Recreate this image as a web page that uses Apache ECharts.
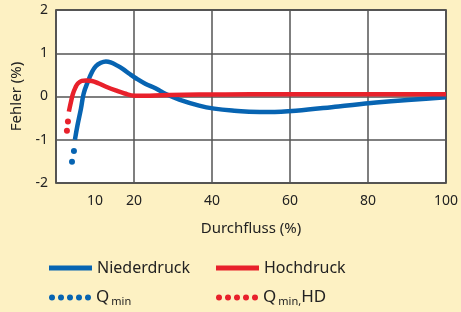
<!DOCTYPE html>
<html>
<head>
<meta charset="utf-8">
<script src="https://cdn.jsdelivr.net/npm/echarts@6/dist/echarts.min.js"></script>
<style>
  html, body { margin: 0; padding: 0; background: #fdf1c3; }
  #chart { width: 461px; height: 312px; }
</style>
</head>
<body>
<div id="chart"></div>
<script>
// Fehler (%) over Durchfluss (%)
let niederdruck = [
    [4.85, -1.00], [5.5, -0.67], [6.4, -0.28], [7.1, 0.07], [8.2, 0.35],
    [9.2, 0.56], [10.2, 0.70], [11.5, 0.78], [12.8, 0.81], [14.0, 0.79],
    [15.6, 0.72], [17.1, 0.64], [18.9, 0.52], [20.7, 0.41], [23.0, 0.29],
    [25.5, 0.19], [28.3, 0.05], [31.6, -0.07], [36.7, -0.21], [40.6, -0.28],
    [45.7, -0.33], [49.5, -0.35], [54.6, -0.36], [61.5, -0.33], [72.4, -0.23],
    [82.1, -0.14], [100, -0.02]
];
let hochdruck = [
    [3.3, -0.35], [3.8, -0.14], [4.3, 0.05], [5.0, 0.21], [5.6, 0.30],
    [6.6, 0.36], [7.7, 0.37], [9.2, 0.36], [11.0, 0.30], [13.0, 0.22],
    [15.3, 0.14], [17.6, 0.07], [20.2, 0.02], [24.0, 0.02], [29.1, 0.035],
    [36.7, 0.045], [50, 0.05], [70, 0.05], [85, 0.05], [100, 0.05]
];
let qMin = [[4.1, -1.51], [4.6, -1.26]];
let qMinHD = [[2.8, -0.79], [3.06, -0.58]];
let xLabels = [10, 20, 40, 60, 80, 100];

let blue = '#0764b2';
let red = '#e8212b';
let font = 'Noto Sans';

function dots(w, h, n) {
    let r = h / 2;
    let step = (w - h) / (n - 1);
    let p = 'path://';
    for (let i = 0; i < n; i++) {
        let cx = r + i * step;
        p += 'M' + (cx - r) + ',' + r + ' a' + r + ',' + r + ' 0 1,0 ' + (2 * r) + ',0 a' + r + ',' + r + ' 0 1,0 ' + (-2 * r) + ',0 Z ';
    }
    return p;
}

let legendText = {
    fontFamily: font,
    fontSize: 16,
    color: '#222',
    rich: {
        q: { fontFamily: font, fontSize: 17, color: '#222', lineHeight: 20 },
        s: { fontFamily: font, fontSize: 11, color: '#222', verticalAlign: 'bottom', lineHeight: 11, padding: [0, 0, 0, 2] }
    }
};
function legendFormat(name) {
    if (name === 'Qmin') return '{q|Q}{s|min}';
    if (name === 'QminHD') return '{q|Q}{s|min,}{q|HD}';
    return name;
}

let chart = echarts.init(document.getElementById('chart'));
let option = {
    backgroundColor: '#fdf1c3',
    animation: false,
    grid: {
        left: 56, right: 13, top: 10, bottom: 129,
        show: true,
        backgroundColor: '#fff',
        borderColor: '#222',
        borderWidth: 1.5
    },
    legend: [
        { data: ['Niederdruck'], left: 49, top: 260, padding: 0, icon: 'rect', itemWidth: 43, itemHeight: 5, textStyle: legendText },
        { data: ['Hochdruck'], left: 216, top: 260, padding: 0, icon: 'rect', itemWidth: 43, itemHeight: 5, textStyle: legendText },
        { data: ['Qmin'], left: 49, top: 289, padding: 0, icon: dots(42, 6, 5), itemWidth: 42, itemHeight: 6, textStyle: legendText, formatter: legendFormat },
        { data: ['QminHD'], left: 216, top: 289, padding: 0, icon: dots(42, 6, 5), itemWidth: 42, itemHeight: 6, textStyle: legendText, formatter: legendFormat }
    ],
    xAxis: {
        type: 'value',
        min: 0,
        max: 100,
        interval: 20,
        name: 'Durchfluss (%)',
        nameLocation: 'middle',
        nameGap: 38,
        nameTextStyle: { fontFamily: font, fontSize: 15, color: '#222' },
        axisLine: { show: false },
        axisTick: { show: false },
        axisLabel: {
            customValues: xLabels,
            margin: 11,
            fontFamily: font,
            fontSize: 14,
            color: '#222'
        },
        splitLine: { lineStyle: { color: '#555', width: 1.5 } }
    },
    yAxis: {
        type: 'value',
        min: -2,
        max: 2,
        interval: 1,
        name: 'Fehler (%)',
        nameLocation: 'middle',
        nameGap: 27,
        nameTextStyle: { fontFamily: font, fontSize: 15, color: '#222' },
        axisLine: { show: false },
        axisTick: { show: false },
        axisLabel: { margin: 8, fontFamily: font, fontSize: 14, color: '#222' },
        splitLine: { lineStyle: { color: '#555', width: 1.5 } }
    },
    series: [
        {
            name: 'Niederdruck', type: 'line', data: niederdruck, smooth: 0.4,
            showSymbol: false, color: blue, lineStyle: { width: 4.5, color: blue }
        },
        {
            name: 'Hochdruck', type: 'line', data: hochdruck, smooth: 0.4,
            showSymbol: false, color: red, lineStyle: { width: 4.5, color: red }
        },
        {
            name: 'Qmin', type: 'scatter', data: qMin, symbolSize: 6, color: blue,
            itemStyle: { opacity: 1 }
        },
        {
            name: 'QminHD', type: 'scatter', data: qMinHD, symbolSize: 6, color: red,
            itemStyle: { opacity: 1 }
        }
    ]
};
chart.setOption(option);
</script>
</body>
</html>
